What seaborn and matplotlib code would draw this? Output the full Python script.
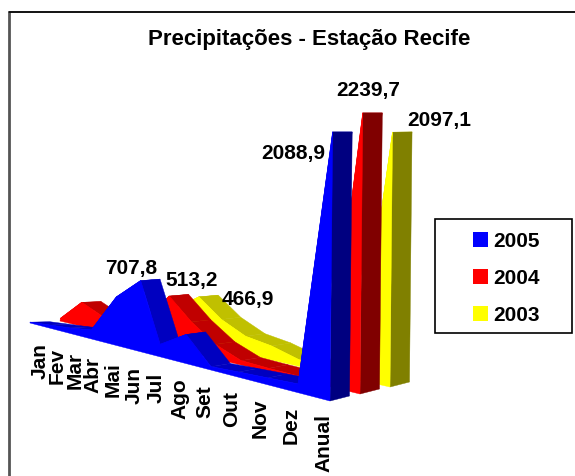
import numpy as np
import pandas as pd
import seaborn as sns
import matplotlib
matplotlib.use("Agg")
import matplotlib.pyplot as plt
from matplotlib.patches import Rectangle

months = ["Jan", "Fev", "Mar", "Abr", "Mai", "Jun", "Jul", "Ago", "Set", "Out", "Nov", "Dez", "Anual"]
years = ["2005", "2004", "2003"]
v2005 = [10, 35, 60, 95, 500, 707.8, 120, 270, 30, 45, 57, 70, 2088.9]
v2004 = [30, 270, 170, 130, 200, 513.2, 300, 135, 40, 30, 25, 15, 2239.7]
v2003 = [10, 20, 40, 120, 300, 466.9, 285, 170, 130, 60, 30, 20, 2097.1]
# label text as printed in the chart
label_text = ["707,8", "513,2", "466,9", "2088,9", "2239,7", "2097,1"]

sns.set_theme(style="white")
plt.rcParams['font.family'] = ['Liberation Sans', 'DejaVu Sans']

series = [v2005, v2004, v2003]
front = ["#0000ff", "#ff0000", "#ffff00"]
slope = ["#0000c0", "#c00000", "#c0c000"]
end = ["#000080", "#800000", "#808000"]
scale_end = [0.1288, 0.1255, 0.1215]


def persp(i, a=1.32):
    t = i / 12
    return t / (a * (1 - t) + t)


def project(i, d, val, depth=0.0):
    # i month index, d series index, depth 0 front of the ribbon, 1 back of it
    f = persp(i)
    s = 0.0985 + (scale_end[d] - 0.0985) * (f - 0.351) / 0.649
    h = val * s
    x0 = 30 + 300 * f + 30 * d + 19.5 * depth
    y0 = 324 + 78 * f - d * (2 + 5 * f)
    y0 -= depth * (0.5 + 4.5 * f) * max(0, 1 - h / 269)
    return x0 + h * (0.1 * (1 - f) + 0.01), y0 - h


fig = plt.figure(figsize=(5.75, 4.77), dpi=100)
ax = fig.add_axes([0, 0, 1, 1])

# chart frame
ax.plot([9, 9], [12.5, 477], color="#555555", lw=2, solid_capstyle="butt")
ax.plot([9, 575], [12.5, 12.5], color="black", lw=1.3)

# back ribbon first
for d in [2, 1, 0]:
    z = 4 - d
    vals = series[d]
    n = len(vals)
    for i in range(n - 1):
        a = project(i, d, vals[i])
        b = project(i + 1, d, vals[i + 1])
        c = project(i + 1, d, vals[i + 1], 1)
        e = project(i, d, vals[i], 1)
        ax.fill([a[0], b[0], c[0], e[0]], [a[1], b[1], c[1], e[1]], color=slope[d], lw=0.3, zorder=z)
    # end face of the Anual column
    p1 = project(n - 1, d, 0)
    p2 = project(n - 1, d, 0, 1)
    p3 = project(n - 1, d, vals[-1], 1)
    p4 = project(n - 1, d, vals[-1])
    ax.fill([p1[0], p2[0], p3[0], p4[0]], [p1[1], p2[1], p3[1], p4[1]], color=end[d], lw=0.3, zorder=z)
    tops = [project(i, d, vals[i]) for i in range(n)]
    bases = [project(i, d, 0) for i in range(n)]
    xs = [p[0] for p in tops] + [p[0] for p in bases[::-1]]
    ys = [p[1] for p in tops] + [p[1] for p in bases[::-1]]
    ax.fill(xs, ys, color=front[d], lw=0.3, zorder=z + 0.5)
    df = pd.DataFrame({"x": [p[0] for p in tops], "y": [p[1] for p in tops], "ano": years[d]})
    sns.lineplot(data=df, x="x", y="y", sort=False, estimator=None, color=front[d], lw=0.5,
                 legend=False, ax=ax, zorder=z + 0.5)
ax.set_xlim(0, 575)
ax.set_ylim(477, 0)
ax.axis("off")

# month labels follow the floor of the front ribbon
for i, m in enumerate(months):
    lx = 40 + 284 * persp(i, 1.44)
    ax.text(lx, 343 + (lx - 38) * 0.25, m, rotation=90, ha="center", va="top",
            fontsize=15, fontweight="bold", color="black", zorder=6)

# data labels
jun = months.index("Jun")
anual = months.index("Anual")
label_pts = [(jun, 0), (jun, 1), (jun, 2), (anual, 0), (anual, 1), (anual, 2)]
label_off = [(-9, -13), (23, -17), (49, 2), (-39, 21), (5, -23), (47, -13)]
for txt, (i, d), off in zip(label_text, label_pts, label_off):
    px, py = project(i, d, series[d][i])
    ax.text(px + off[0], py + off[1], txt, ha="center", va="center",
            fontsize=15, fontweight="bold", color="black", zorder=6)

ax.text(309, 39.5, "Precipitações - Estação Recife", ha="center", va="center",
        fontsize=16, fontweight="bold", color="black")

# legend box
ax.add_patch(Rectangle((435, 220), 136.5, 114, fc="white", ec="black", lw=1.2, zorder=6))
for k, yr in enumerate(years):
    ax.add_patch(Rectangle((473, 233 + 37 * k), 15, 15, fc=front[k], ec="none", zorder=7))
    ax.text(493, 239.5 + 37 * k, yr, ha="left", va="center_baseline",
            fontsize=15, fontweight="bold", color="black", zorder=7)

fig.savefig("out.png", dpi=100)
